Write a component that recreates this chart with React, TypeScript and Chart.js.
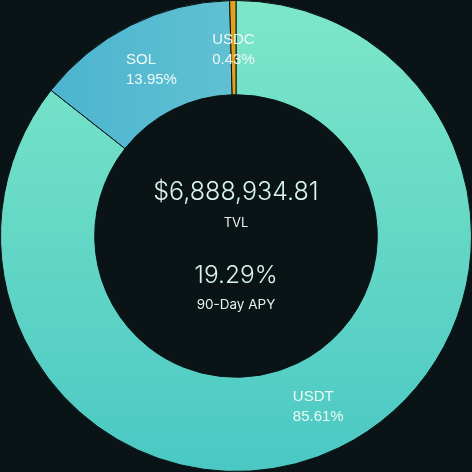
import React, { useEffect, useRef } from "react";
import { Chart, registerables } from "chart.js";

Chart.register(...registerables);

const labels = ["USDT", "SOL", "USDC"];
const shares = [85.61, 13.95, 0.43];
const tvlText = "$6,888,934.81";
const tvlLabel = "TVL";
const apyText = "19.29%";
const apyLabel = "90-Day APY";

const BG = "#0a1315";

export default function App() {
  const ref = useRef<HTMLCanvasElement | null>(null);
  useEffect(() => {
    const canvas = ref.current!;
    const grad = (ctx: any, i: number) => {
      const chart = ctx.chart;
      const area = chart.chartArea;
      if (!area) return "#5bd3c6";
      const c = chart.ctx as CanvasRenderingContext2D;
      if (i === 0) {
        const g = c.createLinearGradient(0, area.top, 0, area.bottom);
        g.addColorStop(0, "#7de7c8");
        g.addColorStop(1, "#4bc8c4");
        return g;
      }
      if (i === 1) {
        const g = c.createLinearGradient(area.left, 0, area.left + area.width / 2, 0);
        g.addColorStop(0, "#47b1cf");
        g.addColorStop(1, "#60c1d2");
        return g;
      }
      return "#e0a21e";
    };
    const labelPlugin = {
      id: "arcLabels",
      afterDatasetsDraw(chart: any) {
        const c = chart.ctx as CanvasRenderingContext2D;
        const meta = chart.getDatasetMeta(0);
        c.save();
        c.font = "15px 'Liberation Sans', Arial, sans-serif";
        c.fillStyle = "#eef9f6";
        c.textBaseline = "alphabetic";
        c.textAlign = "left";
        meta.data.forEach((arc: any, i: number) => {
          const p = arc.getProps(["x", "y", "startAngle", "endAngle", "innerRadius", "outerRadius"], true);
          const mid = (p.startAngle + p.endAngle) / 2;
          const r = (p.innerRadius + p.outerRadius) / 2;
          const cx = p.x + Math.cos(mid) * r;
          const cy = p.y + Math.sin(mid) * r;
          const lines = [labels[i], shares[i].toFixed(2) + "%"];
          const w = Math.max(...lines.map((l) => c.measureText(l).width));
          const x0 = cx - w / 2;
          c.fillText(lines[0], x0, cy - 4);
          c.fillText(lines[1], x0, cy + 16);
        });
        c.restore();
      },
    };
    const centerPlugin = {
      id: "centerText",
      afterDraw(chart: any) {
        const c = chart.ctx as CanvasRenderingContext2D;
        const meta = chart.getDatasetMeta(0);
        const arc = meta.data[0];
        const x = arc.x;
        const y = arc.y;
        c.save();
        c.textAlign = "center";
        c.textBaseline = "alphabetic";
        c.fillStyle = "#d9f6ec";
        c.font = "300 25px Inter, 'Open Sans', sans-serif";
        c.fillText(tvlText, x, y - 36);
        c.fillStyle = "#e6efed";
        c.font = "13px Inter, 'Open Sans', sans-serif";
        c.fillText(tvlLabel, x, y - 9);
        c.fillStyle = "#d9f6ec";
        c.font = "300 24.5px Inter, 'Open Sans', sans-serif";
        c.fillText(apyText, x, y + 47);
        c.fillStyle = "#e6efed";
        c.font = "13.5px Inter, 'Open Sans', sans-serif";
        c.fillText(apyLabel, x, y + 73);
        c.restore();
      },
    };
    const chart = new Chart(canvas, {
      type: "doughnut",
      data: {
        labels,
        datasets: [
          {
            data: shares,
            backgroundColor: (ctx: any) => grad(ctx, ctx.dataIndex),
            borderColor: BG,
            borderWidth: 1,
          },
        ],
      },
      options: {
        animation: false,
        responsive: false,
        maintainAspectRatio: false,
        cutout: "60%",
        layout: { padding: 0 },
        plugins: {
          legend: { display: false },
          tooltip: { enabled: false },
        },
      },
      plugins: [labelPlugin, centerPlugin],
    });
    return () => chart.destroy();
  }, []);
  return (
    <div
      style={{
        position: "fixed",
        left: 0,
        top: 0,
        width: 472,
        height: 472,
        background: BG,
      }}
    >
      <canvas ref={ref} width={472} height={472} style={{ display: "block" }} />
    </div>
  );
}
